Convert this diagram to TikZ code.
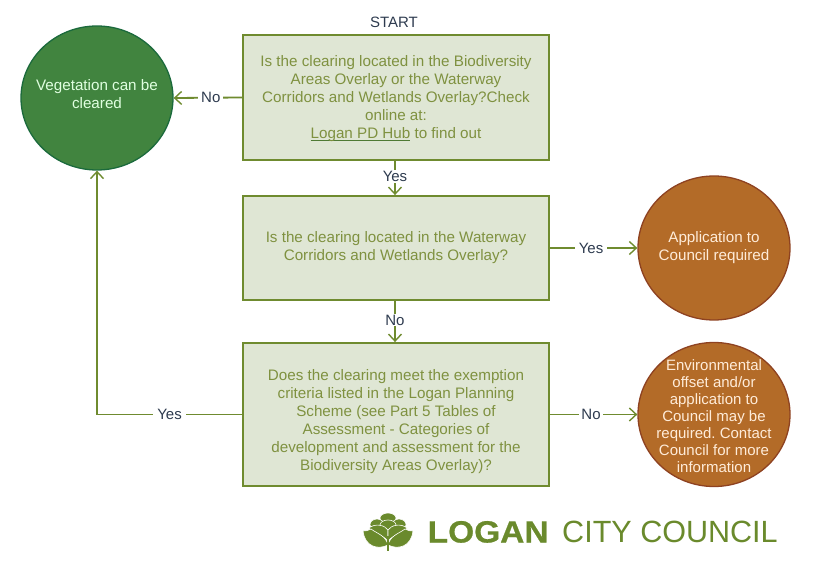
\documentclass[tikz,border=0pt]{standalone}
\usepackage{fontspec}
\usepackage{graphicx}
\setmainfont{Liberation Sans}
\frenchspacing
\usetikzlibrary{arrows.meta,shapes.geometric}
\definecolor{olive}{HTML}{6F8B2F}
\definecolor{boxfill}{HTML}{DFE6D4}
\definecolor{boxtext}{HTML}{7F9140}
\definecolor{linkline}{HTML}{4F7A34}
\definecolor{greenfill}{HTML}{41843F}
\definecolor{greenedge}{HTML}{1B6A3C}
\definecolor{brownfill}{HTML}{B36B28}
\definecolor{brownedge}{HTML}{8E4221}
\definecolor{labelink}{HTML}{2E3B4F}
\definecolor{logogreen}{HTML}{6A8A2C}
\newcommand{\hublink}[1]{\setbox0\hbox{#1}\rlap{\color{linkline}\rule[-2.4pt]{\wd0}{1.1pt}}\box0\relax}
\tikzset{
  question/.style={draw=olive,fill=boxfill,line width=1.8pt,text=boxtext,
    minimum width=306pt,align=center,inner sep=0pt,font=\fontsize{15.2}{18}\selectfont},
  outcome/.style={ellipse,line width=1.3pt,minimum width=152pt,minimum height=144pt,
    inner sep=-30pt,align=center,font=\fontsize{15.2}{18}\selectfont},
  cleared/.style={outcome,draw=greenedge,fill=greenfill,text=white!88!green},
  council/.style={outcome,draw=brownedge,fill=brownfill,text=white!85!orange},
  flow/.style={draw=olive,line width=1.8pt,-{Straight Barb[length=7pt,width=13pt,line width=1.4pt]}},
  plainlabel/.style={text=labelink,font=\fontsize{15}{17}\selectfont},
  answer/.style={plainlabel,fill=white,inner xsep=4pt,inner ysep=1pt},
  leaf/.style={fill=logogreen,draw=white,line width=0.6pt}
}
\begin{document}
\begin{tikzpicture}[x=1pt,y=-1pt]
\useasboundingbox (0,0) rectangle (814,561);

% Decision boxes
\node[question,minimum height=125pt] (q1) at (396,97.5)
  {\rule{0pt}{13pt}Is the clearing located in the Biodiversity\\Areas Overlay or the Waterway\\Corridors and Wetlands Overlay?Check\\online at:\\\hublink{Logan PD Hub} to find out};
\node[question,minimum height=104pt] (q2) at (396,248)
  {Is the clearing located in the Waterway\\Corridors and Wetlands Overlay?};
\node[question,minimum height=143pt] (q3) at (396,414.5)
  {\rule{0pt}{25pt}Does the clearing meet the exemption\\criteria listed in the Logan Planning\\Scheme (see Part 5 Tables of\\Assessment - Categories of\\development and assessment for the\\Biodiversity Areas Overlay)?};

% Outcomes
\node[cleared] (veg) at (97,98) {Vegetation can be\\cleared\rule[-9pt]{0pt}{0pt}};
\node[council] (app) at (714,248) {Application to\\Council required};
\node[council,font=\fontsize{15}{17}\selectfont] (env) at (714,414.5)
  {\rule{0pt}{14pt}Environmental\\offset and/or\\application to\\Council may be\\required. Contact\\Council for more\\information};

\node[plainlabel] (start) at (394,22.5) {START};

% Connectors
\draw[flow] (q1.west) -- node[answer,pos=0.457,inner xsep=3pt] (lno1) {No} (veg.east);
\draw[flow] ([xshift=-1pt]q1.south) -- node[answer,inner xsep=1pt,pos=0.45] (lyes1) {Yes} ([xshift=-1pt]q2.north);
\draw[flow] (q2.east) -- node[answer,pos=0.47] (lyes2) {Yes} (app.west);
\draw[flow] ([xshift=-1pt]q2.south) -- node[answer,inner xsep=1pt,pos=0.47] (lno2) {No} ([xshift=-1pt]q3.north);
\draw[flow] (q3.east) -- node[answer,pos=0.47,inner xsep=2pt] (lno3) {No} (env.west);
\draw[flow] (q3.west) -| (veg.south) node[answer,pos=0.25] (lyes3) {Yes};

% Emblem: mirrored leaves around a stem, crowned by rounded lobes
\begin{scope}[shift={(388,0)}]
  \filldraw[leaf] (0,518) ellipse (8 and 5);
  \foreach \side in {1,-1} {
    \begin{scope}[xscale=\side]
      \filldraw[leaf] (-11,524.5) ellipse (7 and 5.5);
    \end{scope}
  }
  \filldraw[leaf] (0,525) ellipse (8 and 5);
  \foreach \side in {1,-1} {
    \begin{scope}[xscale=\side]
      % inner scales beneath the lobes
      \filldraw[leaf] (-19,528) .. controls (-13,523) and (-3,525) .. (0,530)
        -- (0,541) .. controls (-5,535) and (-14,534) .. (-19,528) -- cycle;
      % broad lower leaf
      \filldraw[leaf] (-25,531) .. controls (-21,531) and (-19,530) .. (-17,529)
        .. controls (-10,534) and (-2,536) .. (0,545)
        .. controls (-10,550) and (-23,547) .. (-25,531) -- cycle;
    \end{scope}
  }
  \draw[logogreen,line width=1.3pt] (0,536) -- (0,551);
\end{scope}

% Council name
\node[anchor=base west,inner sep=0pt,text=logogreen,font=\fontsize{30.7}{32}\selectfont\bfseries\addfontfeature{FakeBold=0.7}] (wordmark) at (427.5,542.5)
  {\scalebox{1.09}[1]{LOGAN}};
\node[anchor=base west,inner sep=0pt,text=logogreen,font=\fontsize{30.7}{32}\selectfont] (cityname) at (562,542.5)
  {\scalebox{0.995}[1]{CITY COUNCIL}};
\end{tikzpicture}
\end{document}
